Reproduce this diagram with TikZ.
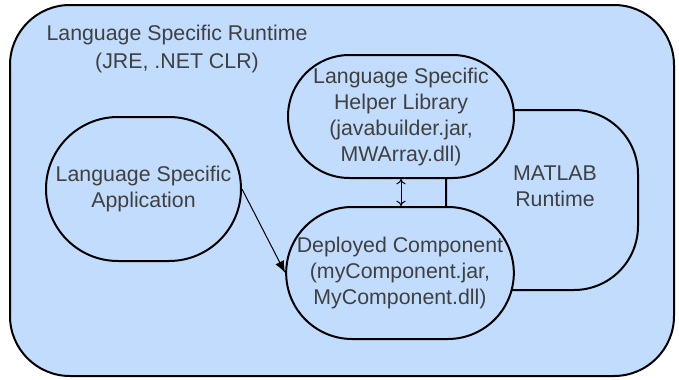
\documentclass[tikz,border=0pt]{standalone}
\usepackage{fontspec}
\setmainfont{Liberation Sans}
\usetikzlibrary{arrows.meta,shapes.misc}
\definecolor{rtblue}{RGB}{193,220,252}
\definecolor{txtgray}{RGB}{64,64,64}

\begin{document}
\begin{tikzpicture}[x=0.75pt, y=-0.75pt, line width=1.5pt,
        main/.style = {draw, fill=rtblue, rounded rectangle, align=center, text=txtgray, inner sep=0pt, font=\fontsize{16}{19.5}\selectfont},
        lbl/.style = {align=center, text=txtgray, font=\fontsize{16}{19.5}\selectfont}]
        \useasboundingbox (0,0) rectangle (679,379);
        \draw[fill=rtblue, rounded corners=45pt] (10,5) rectangle (674,376);
        \node[lbl, font=\fontsize{16}{21}\selectfont] (rt) at (177,49) {Language Specific Runtime\\(JRE, .NET CLR)};
        \node[draw, fill=rtblue, rounded corners=48pt, minimum width=144pt, minimum height=135pt] (mr) at (542,200) {};
        \node[lbl] (mrt) at (555,186) {MATLAB\\Runtime};
        \node[main, minimum width=146.25pt, minimum height=108pt] (app) at (143.5,189) {Language Specific\\Application};
        \node[main, minimum width=169.5pt, minimum height=92.25pt] (help) at (401,116.5) {Language Specific\\Helper Library\\(javabuilder.jar,\\MWArray.dll)};
        \node[main, minimum width=169.5pt, minimum height=99pt] (dep) at (400,273) {Deployed Component\\(myComponent.jar,\\MyComponent.dll)};
        \draw[line width=0.75pt, -{Latex[length=9pt,width=7pt]}] (app.east) -- (dep.west);
        \draw[line width=0.75pt, {To[length=4pt,width=7pt]}-{To[length=4pt,width=7pt]}] (help.south) -- (help.south |- dep.north);
    \end{tikzpicture}
\end{document}
